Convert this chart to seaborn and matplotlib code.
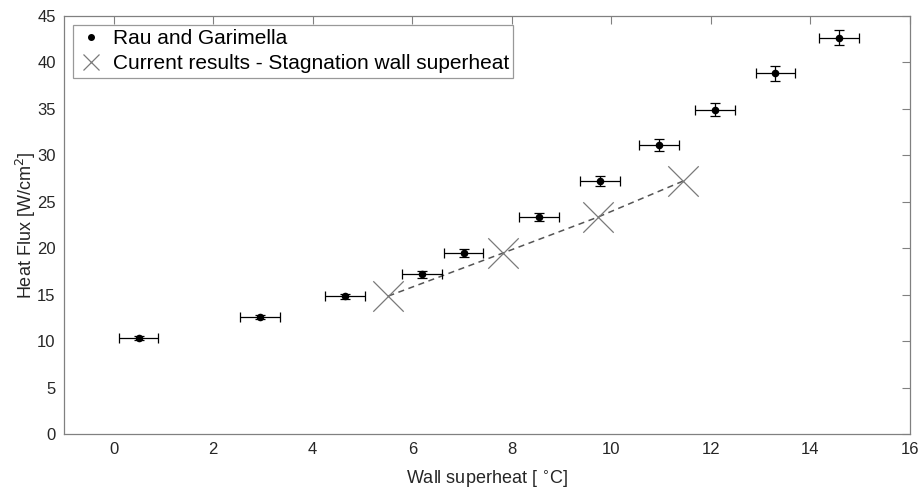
import matplotlib
matplotlib.use("Agg")
import matplotlib.pyplot as plt
from matplotlib.lines import Line2D
import seaborn as sns
import pandas as pd

# Rau and Garimella data
rau_x = [0.50, 2.94, 4.65, 6.20, 7.03, 8.54, 9.77, 10.96, 12.09, 13.30, 14.58]
rau_y = [10.29, 12.58, 14.80, 17.17, 19.46, 23.33, 27.17, 31.08, 34.90, 38.78, 42.65]
rau_xerr = [0.4, 0.4, 0.4, 0.4, 0.4, 0.4, 0.4, 0.4, 0.4, 0.4, 0.4]
rau_yerr = [0.21, 0.25, 0.30, 0.34, 0.39, 0.47, 0.54, 0.62, 0.70, 0.78, 0.85]

# Current results - stagnation wall superheat
cur_x = [5.52, 7.82, 9.73, 11.44]
cur_y = [14.84, 19.46, 23.33, 27.20]

x_ticks = [0, 2, 4, 6, 8, 10, 12, 14, 16]
y_ticks = [0, 5, 10, 15, 20, 25, 30, 35, 40, 45]

sns.set_theme(style="white")
plt.rcParams['font.family'] = ['Liberation Sans', 'DejaVu Sans']

fig = plt.figure(figsize=(9.19, 4.93), dpi=100)
ax = fig.add_axes([0.0696, 0.1197, 0.9204, 0.8485])

rau = pd.DataFrame({"x": rau_x, "y": rau_y})
cur = pd.DataFrame({"x": cur_x, "y": cur_y})

ax.errorbar(rau_x, rau_y, xerr=rau_xerr, yerr=rau_yerr, fmt="none",
            ecolor="black", elinewidth=0.9, capsize=3.5, capthick=0.9, zorder=3)
sns.scatterplot(data=rau, x="x", y="y", ax=ax, color="black", s=30,
                edgecolor="black", linewidth=0, zorder=4, legend=False)
sns.lineplot(data=cur, x="x", y="y", ax=ax, color="#555555", linestyle=(0, (4, 3)),
             linewidth=1.1, zorder=2, legend=False)
sns.scatterplot(data=cur, x="x", y="y", ax=ax, marker="x", s=480, color="#7a7a7a",
                linewidth=0.9, zorder=3, legend=False)

ax.set_xlim(-1, 16)
ax.set_ylim(0, 45)
ax.set_xticks(x_ticks)
ax.set_yticks(y_ticks)
ax.tick_params(direction="in", length=6, width=0.8, color="#808080",
               top=True, right=True, labelsize=12, labelcolor="#262626", pad=6)
for sp in ax.spines.values():
    sp.set_color("#808080")
    sp.set_linewidth(0.9)

ax.set_xlabel(r"Wall superheat [ $^{\circ}$C]", fontsize=13, color="#262626", labelpad=8.5)
ax.set_ylabel(r"Heat Flux [W/cm$^2$]", fontsize=13, color="#262626", labelpad=-1)

handles = [
    Line2D([], [], marker="o", linestyle="none", color="black", markersize=4),
    Line2D([], [], marker="x", linestyle="none", color="#7a7a7a", markersize=12,
           markeredgewidth=0.9),
]
leg = ax.legend(handles, ["Rau and Garimella", "Current results - Stagnation wall superheat"],
                loc="upper left", bbox_to_anchor=(0.0, 1.0), borderaxespad=0.45,
                fontsize=15, frameon=True, fancybox=False, handlelength=1.3,
                handletextpad=0.4, borderpad=0.2, labelspacing=0.3)
leg.get_frame().set_edgecolor("#808080")
leg.get_frame().set_linewidth(0.9)
for t in leg.get_texts():
    t.set_color("black")

fig.savefig("out.png", dpi=100)
